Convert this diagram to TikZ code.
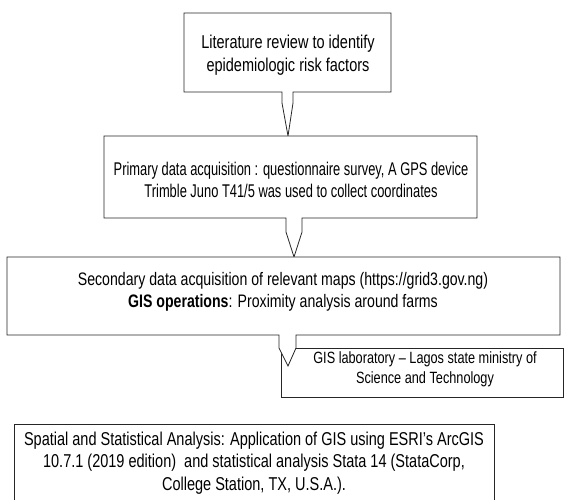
\documentclass[tikz,border=0pt]{standalone}
\usepackage{fontspec}
\setmainfont{Liberation Sans}[FakeStretch=0.78]
\newfontfamily\narrowfont{Liberation Sans}[FakeStretch=0.70]
\begin{document}
\begin{tikzpicture}[x=1pt,y=-1pt,
  callout/.style={draw=black!85,line width=0.8pt,fill=white,line join=miter},
  plainbox/.style={draw=black!85,line width=0.8pt,fill=white},
  label/.style={align=center,inner sep=0pt,font=\fontsize{#1}{22.5}\selectfont},
  label/.default=18.6,
  narrowlabel/.style={align=center,inner sep=0pt,font=\narrowfont\fontsize{18.4}{22.5}\selectfont},
  smalllabel/.style={align=center,inner sep=0pt,font=\fontsize{16.3}{20}\selectfont}]
\useasboundingbox (0,0) rectangle (567,499);
\clip (0,0) rectangle (567,499);

% step 1: literature review
\draw[callout] (184,13) -| (391,92) -- (293,92) -- (293,103) -- (288,136)
  -- (282,103) -- (282,92) -- (184,92) -- cycle;
\node[label] (lit) at (288,55) {Literature review to identify\\epidemiologic risk factors};

% step 2: primary data
\draw[callout] (104,136) -| (477,218) -- (302,218) -- (302,232) -- (294,257)
  -- (286,232) -- (286,218) -- (104,218) -- cycle;
\node[narrowlabel] (prim) at (291,180) {Primary data acquisition : questionnaire survey, A GPS device\\Trimble Juno T41/5 was used to collect coordinates};

% laboratory box sits under the tail of step 3
\draw[plainbox] (281,348) rectangle (563,397);
\node[smalllabel] (lab) at (425,369) {GIS laboratory -- Lagos state ministry of\\Science and Technology};

% step 3: secondary data and GIS operations
\draw[callout] (7,257) -| (560,335) -- (296,335) -- (296,348) -- (288,366)
  -- (279,348) -- (279,335) -- (7,335) -- cycle;
\node[label=18.1] (sec) at (283,292) {Secondary data acquisition of relevant maps (https://grid3.gov.ng)\\\textbf{GIS operations}: Proximity analysis around farms};

% step 4: analysis
\draw[plainbox] (14,424) rectangle (494,510);
\node[label] (ana) at (254,463) {Spatial and Statistical Analysis: Application of GIS using ESRI's ArcGIS\\10.7.1 (2019 edition)\ \ and statistical analysis Stata 14 (StataCorp,\\College Station, TX, U.S.A.).};
\end{tikzpicture}
\end{document}
